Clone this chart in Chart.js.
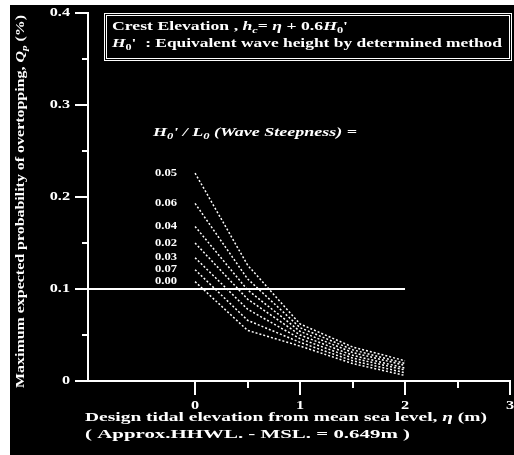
<!DOCTYPE html>
<html>
<head>
<meta charset="utf-8">
<script src="https://cdn.jsdelivr.net/npm/chart.js@4"></script>
<style>
    html, body { margin: 0; padding: 0; background: #fff; }
    #wrap { width: 514px; height: 455px; }
</style>
</head>
<body>
<div id="wrap"><canvas id="chart" width="514" height="455"></canvas></div>
<script>
// Design tidal elevation (m) where each curve was read
const elevation = [0, 0.5, 1, 1.5, 2];

// Wave steepness labels, top curve first
const steepnessLabels = ['0.05', '0.06', '0.04', '0.02', '0.03', '0.07', '0.00'];

// Maximum expected probability of overtopping for each steepness
const curveA = [0.226, 0.126, 0.062, 0.037, 0.022];
const curveB = [0.193, 0.111, 0.058, 0.034, 0.019];
const curveC = [0.168, 0.099, 0.054, 0.031, 0.017];
const curveD = [0.150, 0.089, 0.050, 0.028, 0.014];
const curveE = [0.134, 0.078, 0.046, 0.025, 0.012];
const curveF = [0.121, 0.066, 0.042, 0.022, 0.009];
const curveG = [0.108, 0.055, 0.038, 0.019, 0.006];
const curves = [curveA, curveB, curveC, curveD, curveE, curveF, curveG];

// Reference level line (probability 0.1)
const refX = [-1.02, 2];
const refY = [0.1, 0.1];

const yTicks = [0, 0.1, 0.2, 0.3, 0.4];
const yMinorTicks = [0.05, 0.15, 0.25, 0.35];
const xTicks = [0, 1, 2, 3];
const xMinorTicks = [0.5, 1.5, 2.5];

const SERIF = '"Liberation Serif", "DejaVu Serif", serif';

const datasets = curves.map((vals, i) => ({
    label: steepnessLabels[i],
    data: elevation.map((x, j) => ({ x: x, y: vals[j] })),
    borderColor: '#fff',
    borderWidth: 1.5,
    borderDash: [2, 2],
    pointRadius: 0,
    tension: 0,
    fill: false
}));
datasets.push({
    label: 'ref',
    data: refX.map((x, j) => ({ x: x, y: refY[j] })),
    borderColor: '#fff',
    borderWidth: 2,
    pointRadius: 0,
    fill: false
});

// draw mixed text pieces; stretch horizontally by sx (or to a target width)
function drawRich(ctx, parts, x, y, size, targetWidth, align) {
    function font(p) {
        return (p.it ? 'italic ' : '') + 'bold ' + (p.sub ? size * 0.7 : size) + 'px ' + SERIF;
    }
    let w = 0;
    parts.forEach(p => { ctx.font = font(p); w += ctx.measureText(p.t).width; });
    const sx = targetWidth > 5 ? targetWidth / w : (targetWidth || 1);
    let start = 0;
    if (align === 'center') start = -w / 2;
    if (align === 'right') start = -w;
    ctx.save();
    ctx.translate(x, y);
    ctx.scale(sx, 1);
    ctx.textBaseline = 'middle';
    ctx.textAlign = 'left';
    let cx = start;
    parts.forEach(p => {
        ctx.font = font(p);
        ctx.fillText(p.t, cx, p.sub ? size * 0.3 : 0);
        cx += ctx.measureText(p.t).width;
    });
    ctx.restore();
}

const decorPlugin = {
    id: 'decor',
    beforeDraw(chart) {
        const ctx = chart.ctx;
        ctx.save();
        ctx.fillStyle = '#fff';
        ctx.fillRect(0, 0, chart.width, chart.height);
        ctx.fillStyle = '#000';
        ctx.fillRect(10, 5, chart.width - 10, chart.height - 5);
        ctx.restore();
    },
    afterDraw(chart) {
        const ctx = chart.ctx;
        const xs = chart.scales.x, ys = chart.scales.y;
        const left = chart.chartArea.left, bottom = chart.chartArea.bottom;
        ctx.save();
        ctx.strokeStyle = '#fff';
        ctx.fillStyle = '#fff';
        ctx.lineWidth = 2;

        // y ticks
        yTicks.forEach(v => {
            const py = Math.round(ys.getPixelForValue(v));
            ctx.beginPath(); ctx.moveTo(left - 13, py); ctx.lineTo(left, py); ctx.stroke();
        });
        yMinorTicks.forEach(v => {
            const py = Math.round(ys.getPixelForValue(v));
            ctx.beginPath(); ctx.moveTo(left - 6, py); ctx.lineTo(left, py); ctx.stroke();
        });
        // x ticks
        xTicks.forEach(v => {
            const px = Math.round(xs.getPixelForValue(v));
            ctx.beginPath(); ctx.moveTo(px, bottom); ctx.lineTo(px, bottom + 14); ctx.stroke();
        });
        xMinorTicks.forEach(v => {
            const px = Math.round(xs.getPixelForValue(v));
            ctx.beginPath(); ctx.moveTo(px, bottom); ctx.lineTo(px, bottom + 7); ctx.stroke();
        });

        // tick labels
        yTicks.forEach(v => drawRich(ctx, [{ t: String(v) }], left - 18, ys.getPixelForValue(v), 13, 1.25, 'right'));
        xTicks.forEach(v => drawRich(ctx, [{ t: String(v) }], xs.getPixelForValue(v), bottom + 25, 13, 1.25, 'center'));

        // legend box
        ctx.lineWidth = 1;
        ctx.strokeRect(104.5, 13.5, 407, 47);
        ctx.strokeRect(106.5, 15.5, 403, 43);
        drawRich(ctx, [
            { t: 'Crest Elevation , ' }, { t: 'h', it: true }, { t: 'c', it: true, sub: true },
            { t: '= ' }, { t: '\u03b7', it: true }, { t: ' + 0.6' }, { t: 'H', it: true },
            { t: '0', sub: true }, { t: "'" }
        ], 112, 27, 12, 236);
        drawRich(ctx, [
            { t: 'H', it: true }, { t: '0', sub: true },
            { t: "'  : Equivalent wave height by determined method" }
        ], 112, 44, 12, 390);

        // steepness heading
        drawRich(ctx, [
            { t: 'H', it: true }, { t: '0', it: true, sub: true }, { t: "' / L", it: true },
            { t: '0', it: true, sub: true }, { t: ' (Wave Steepness) =', it: true }
        ], 153, 133, 12, 204);

        // steepness labels at each curve start
        curves.forEach((vals, i) => {
            drawRich(ctx, [{ t: steepnessLabels[i] }], 155, ys.getPixelForValue(vals[0]), 10, 22);
        });

        // axis titles
        drawRich(ctx, [
            { t: 'Design tidal elevation from mean sea level, ' }, { t: '\u03b7', it: true }, { t: ' (m)' }
        ], 85, 418, 13, 402);
        drawRich(ctx, [{ t: '( Approx.HHWL. - MSL. = 0.649m )' }], 85, 435, 13, 325);

        ctx.translate(21, 202);
        ctx.rotate(-Math.PI / 2);
        drawRich(ctx, [
            { t: 'Maximum expected probability of overtopping, ' }, { t: 'Q', it: true },
            { t: 'p', it: true, sub: true }, { t: ' (%)' }
        ], -186, 0, 12, 373);
        ctx.restore();
    }
};

const ctx = document.getElementById('chart').getContext('2d');
const chart = new Chart(ctx, {
    type: 'line',
    data: { datasets: datasets },
    options: {
        responsive: false,
        animation: false,
        devicePixelRatio: 1,
        layout: { padding: { top: 13, right: 4, left: 0, bottom: 0 } },
        plugins: { legend: { display: false }, tooltip: { enabled: false } },
        scales: {
            x: {
                type: 'linear',
                min: -1.02,
                max: 3,
                grid: { display: false },
                border: { display: true, color: '#fff', width: 2 },
                ticks: { display: false },
                afterFit(scale) {
                    scale.height = 74;
                    scale.paddingLeft = 0; scale.paddingRight = 0;
                    scale.paddingTop = 0; scale.paddingBottom = 0;
                }
            },
            y: {
                type: 'linear',
                min: 0,
                max: 0.4,
                grid: { display: false },
                border: { display: true, color: '#fff', width: 2 },
                ticks: { display: false },
                afterFit(scale) {
                    scale.width = 88;
                    scale.paddingLeft = 0; scale.paddingRight = 0;
                    scale.paddingTop = 0; scale.paddingBottom = 0;
                }
            }
        }
    },
    plugins: [decorPlugin]
});
</script>
</body>
</html>
